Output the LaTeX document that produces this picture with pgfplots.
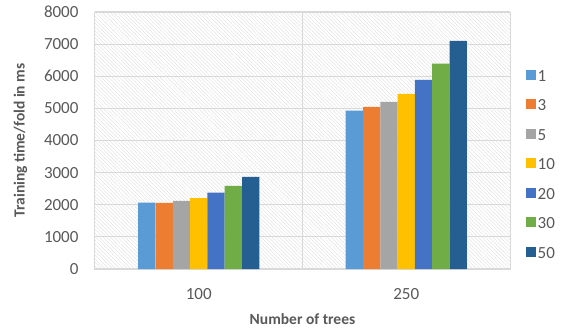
\documentclass[border=0pt]{standalone}
\usepackage{pgfplots}
\pgfplotsset{compat=1.18}
\usepackage{fontspec}
\setmainfont{Carlito}
\usetikzlibrary{patterns.meta}

\definecolor{c1}{HTML}{5B9BD5}
\definecolor{c3}{HTML}{ED7D31}
\definecolor{c5}{HTML}{A5A5A5}
\definecolor{c10}{HTML}{FFC000}
\definecolor{c20}{HTML}{4472C4}
\definecolor{c30}{HTML}{70AD47}
\definecolor{c50}{HTML}{255E91}
\definecolor{txt}{HTML}{595959}
\definecolor{gridc}{HTML}{D9D9D9}

\begin{document}
\begin{tikzpicture}
\begin{axis}[
  scale only axis,
  width=415pt, height=257pt,
  ybar=0pt,
  bar width=17.3pt,
  xmin=-0.5, xmax=1.5,
  ymin=0, ymax=8000,
  xtick={0,1},
  xticklabels={100,250},
  extra x ticks={0.5},
  extra x tick labels={},
  extra x tick style={grid=major, major grid style={gridc, line width=1.2pt}},
  ytick={0,1000,...,8000},
  ymajorgrids,
  major grid style={gridc, line width=1.2pt},
  major tick length=0pt,
  axis line style={gridc, line width=1pt},
  axis background/.style={pattern={Lines[angle=-45, distance=2.6pt, line width=0.35pt]}, pattern color=gray!28},
  /pgf/number format/assume math mode=true,
  yticklabel style={/pgf/number format/1000 sep={}},
  tick label style={font=\fontsize{17}{20}\selectfont, text=txt},
  xticklabel style={yshift=-16pt},
  yticklabel style={xshift=-13pt},
  xlabel={Number of trees},
  ylabel={Training time/fold in ms},
  label style={font=\fontsize{15.5}{18}\selectfont\bfseries, text=txt},
  xlabel style={yshift=-7pt},
  ylabel style={yshift=10pt},
  legend style={at={(1.03,0.405)}, anchor=west, draw=none, fill=none,
    font=\fontsize{17}{20}\selectfont, text=txt, row sep=13pt,
    /tikz/every even column/.append style={column sep=0pt}},
  legend cell align=left,
  legend image code/.code={\fill[#1, draw=none] (0pt,-3.5pt) rectangle (10pt,6.5pt);},
]
\addplot[fill=c1, draw=none] coordinates {(0,2065) (1,4930)};
\addplot[fill=c3, draw=none] coordinates {(0,2055) (1,5045)};
\addplot[fill=c5, draw=none] coordinates {(0,2118) (1,5200)};
\addplot[fill=c10, draw=none] coordinates {(0,2210) (1,5450)};
\addplot[fill=c20, draw=none] coordinates {(0,2378) (1,5885)};
\addplot[fill=c30, draw=none] coordinates {(0,2585) (1,6395)};
\addplot[fill=c50, draw=none] coordinates {(0,2865) (1,7100)};
\legend{1,3,5,10,20,30,50}
\end{axis}
\pgfresetboundingbox
\path[use as bounding box] (-95pt,-60pt) rectangle (472pt,269pt);
\end{tikzpicture}
\end{document}
